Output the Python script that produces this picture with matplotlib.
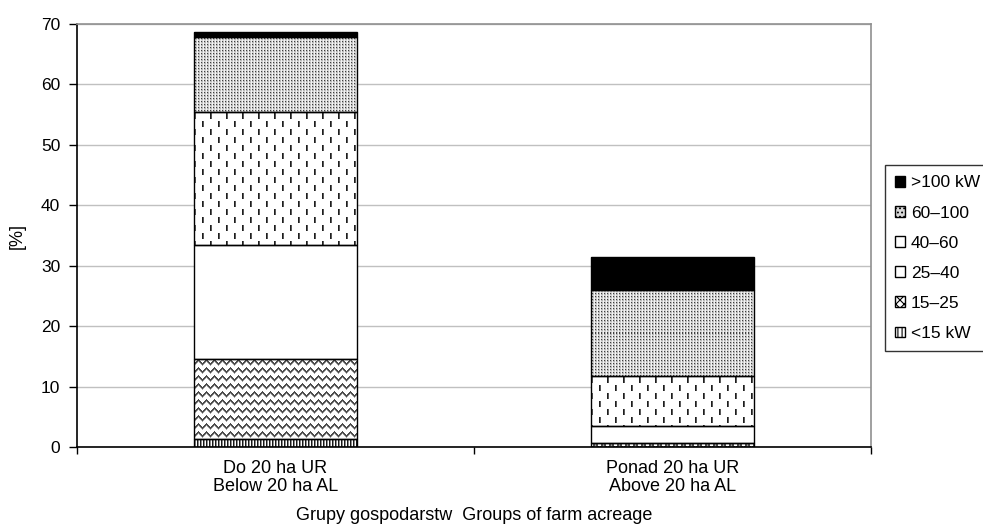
import numpy as np
import matplotlib
matplotlib.use('Agg')
import matplotlib.pyplot as plt
from matplotlib.patches import Patch

plt.rcParams['font.family'] = ['Liberation Sans', 'DejaVu Sans']
plt.rcParams['font.size'] = 12.5

groups = ['Do 20 ha UR\nBelow 20 ha AL', 'Ponad 20 ha UR\nAbove 20 ha AL']
classes = ['<15 kW', '15\u201325', '25\u201340', '40\u201360', '60\u2013100', '>100 kW']
# share of tractors [%] per power class, bottom to top
shares = {
	'<15 kW':  [1.4, 0.0],
	'15\u201325':   [13.2, 0.7],
	'25\u201340':   [18.8, 2.8],
	'40\u201360':   [22.0, 8.2],
	'60\u2013100':  [12.4, 14.3],
	'>100 kW': [0.9, 5.4],
}
fills = ['stripes', 'weave', 'white', 'dashes', 'dots', 'black']


def texture(kind, h, w):
	yy, xx = np.mgrid[0:h, 0:w]
	img = np.ones((h, w))
	if kind == 'stripes':
		img[xx % 3 == 0] = 0.1
		img[xx % 3 == 1] = 0.55
	elif kind == 'weave':
		tri = np.abs((xx % 8) - 4)
		d = (yy - tri) % 8
		img[d < 2] = 0.3
		img[d == 2] = 0.65
	elif kind == 'dashes':
		row = yy // 8
		off = (row % 2) * 8
		xm = (xx + off) % 16
		on = (yy % 8 < 7) & (yy % 8 > 0)
		img[(xm == 0) & on] = 0.12
		img[(xm == 1) & on] = 0.35
	elif kind == 'dots':
		img[:] = 0.72
		img[xx % 3 == 0] = 0.95
		img[(yy % 3 == 0) & (xx % 3 != 0)] = 0.85
		img[(xx % 3 == 1) & (yy % 3 == 1)] = 0.25
	elif kind == 'black':
		img[:] = 0.0
	return np.dstack([img, img, img])


fig = plt.figure(figsize=(9.83, 5.29), dpi=100)
ax = fig.add_axes([0.0783, 0.155, 0.8077, 0.7996])

x = np.arange(len(groups))
width = 0.41
ax.set_xlim(-0.5, 1.5)
ax.set_ylim(0, 70)

bottom = np.zeros(len(groups))
for cls, kind in zip(classes, fills):
	vals = np.array(shares[cls])
	bars = ax.bar(x, vals, width, bottom=bottom, color='white', edgecolor='none', zorder=2)
	for b in bars:
		if b.get_height() <= 0:
			continue
		(px0, py0), (px1, py1) = ax.transData.transform(
			[(b.get_x(), b.get_y()), (b.get_x() + b.get_width(), b.get_y() + b.get_height())])
		w = max(int(round(px1 - px0)), 1)
		h = max(int(round(py1 - py0)), 1)
		im = ax.imshow(texture(kind, h, w), extent=(b.get_x(), b.get_x() + b.get_width(),
			b.get_y(), b.get_y() + b.get_height()), interpolation='nearest', aspect='auto', zorder=2.2)
		im.set_clip_path(b)
	ax.bar(x, vals, width, bottom=bottom, fill=False, edgecolor='black', linewidth=1.0, zorder=3)
	bottom += vals

ax.set_xlim(-0.5, 1.5)
ax.set_ylim(0, 70)
ax.set_yticks(np.arange(0, 71, 10))
ax.yaxis.grid(True, color='#c0c0c0', linewidth=1)
ax.set_axisbelow(True)

ax.set_xticks(x)
ax.set_xticklabels(groups, linespacing=1.1, fontsize=13)
ax.tick_params(axis='x', which='major', length=0, pad=9)
ax.set_xticks([-0.5, 0.5, 1.5], minor=True)
ax.tick_params(axis='x', which='minor', length=5, width=1, color='black')
ax.tick_params(axis='y', length=6, width=1, color='black', pad=6, labelsize=12.5)

for s in ['top', 'right']:
	ax.spines[s].set_color('#909090')
	ax.spines[s].set_linewidth(1.2)
for s in ['left', 'bottom']:
	ax.spines[s].set_color('black')
	ax.spines[s].set_linewidth(1.2)

ax.set_ylabel('[%]', labelpad=11, fontsize=13)
ax.set_xlabel('Grupy gospodarstw  Groups of farm acreage', labelpad=9, fontsize=13)

plt.rcParams['hatch.linewidth'] = 0.8
handles = [
	Patch(facecolor='black', edgecolor='black', label='>100 kW'),
	Patch(facecolor='#d8d8d8', edgecolor='black', hatch='....', label='60\u2013100'),
	Patch(facecolor='white', edgecolor='black', hatch='|', label='40\u201360'),
	Patch(facecolor='white', edgecolor='black', label='25\u201340'),
	Patch(facecolor='white', edgecolor='black', hatch='xxxx', label='15\u201325'),
	Patch(facecolor='white', edgecolor='black', hatch='||||', label='<15 kW'),
]
leg = fig.legend(handles=handles, loc='upper left', bbox_to_anchor=(885 / 983, 1 - 165 / 529),
	frameon=True, fancybox=False, edgecolor='black', handlelength=0.55, handleheight=0.55,
	handletextpad=0.35, labelspacing=0.87, borderpad=0.6, borderaxespad=0, fontsize=12.5)
leg.get_frame().set_linewidth(1.0)

fig.savefig('out.png', dpi=100)
